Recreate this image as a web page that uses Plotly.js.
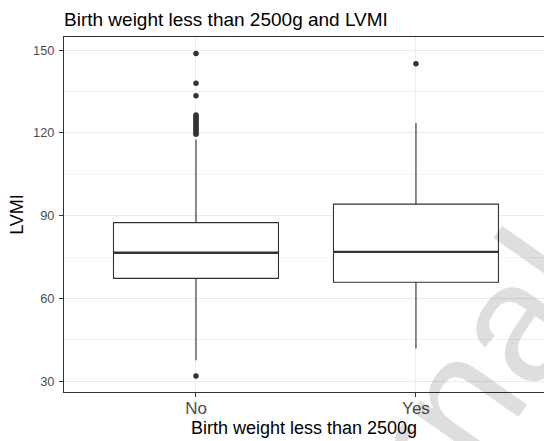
<!DOCTYPE html>
<html>
<head>
<meta charset="utf-8">
<script src="https://cdn.plot.ly/plotly-3.0.1.min.js"></script>
<style>
  html, body { margin: 0; padding: 0; background: #ffffff; overflow: hidden; }
  #chart { width: 544px; height: 441px; }
</style>
</head>
<body>
<div id="chart"></div>
<script>
// Groups on the x axis
const categories = ['No', 'Yes'];

// Box statistics of LVMI for each group
const q1 = [67.3, 65.9];
const median = [76.6, 76.9];
const q3 = [87.5, 94.2];
const lowerWhisker = [37.6, 41.9];
const upperWhisker = [117.6, 123.6];

// Points beyond the whiskers
const outliersNo = [31.9, 119.5, 120.1, 120.7, 121.3, 121.9, 122.5, 123.1, 123.7, 124.3,
                    124.9, 125.5, 126.0, 126.5, 133.5, 138.0, 148.8];
const outliersYes = [145.1];

// Tick values on the y axis
const yTicks = [30, 60, 90, 120, 150];

const FONT = 'Liberation Sans, Arial, Helvetica, sans-serif';
const INK = '#333333';
const BOX_WIDTH = 0.75;

const boxTrace = {
  type: 'box',
  x: categories,
  q1: q1,
  median: median,
  q3: q3,
  lowerfence: lowerWhisker,
  upperfence: upperWhisker,
  boxpoints: false,
  width: BOX_WIDTH,
  whiskerwidth: 0,
  fillcolor: '#ffffff',
  line: { color: INK, width: 1.1 },
  hoverinfo: 'skip',
  showlegend: false
};

const outlierX = [];
const outlierY = [];
outliersNo.forEach(v => { outlierX.push(categories[0]); outlierY.push(v); });
outliersYes.forEach(v => { outlierX.push(categories[1]); outlierY.push(v); });

const outlierTrace = {
  type: 'scatter',
  mode: 'markers',
  x: outlierX,
  y: outlierY,
  marker: { color: INK, size: 5.5 },
  hoverinfo: 'skip',
  showlegend: false
};

// Thick median bars drawn over each box
const medianShapes = median.map((m, i) => ({
  type: 'line',
  xref: 'x', yref: 'y',
  x0: i - BOX_WIDTH / 2, x1: i + BOX_WIDTH / 2,
  y0: m, y1: m,
  line: { color: INK, width: 2.4 }
}));

const layout = {
  width: 544,
  height: 441,
  margin: { l: 64, r: 0, t: 37, b: 49, autoexpand: false },
  paper_bgcolor: '#ffffff',
  plot_bgcolor: '#ffffff',
  font: { family: FONT, color: '#000000' },
  title: {
    text: 'Birth weight less than 2500g and LVMI',
    font: { family: FONT, size: 19, color: '#000000' },
    xref: 'paper', x: 0, xanchor: 'left',
    yref: 'container', y: 0.955, yanchor: 'middle'
  },
  xaxis: {
    type: 'category',
    categoryarray: categories,
    range: [-0.6, 1.582],
    showgrid: true,
    gridcolor: '#EBEBEB',
    gridwidth: 1,
    zeroline: false,
    showline: true,
    mirror: true,
    linecolor: INK,
    linewidth: 1,
    ticks: 'outside',
    ticklen: 4,
    tickwidth: 1,
    tickcolor: INK,
    ticklabelstandoff: -3,
    tickfont: { family: FONT, size: 17, color: '#4D4D4D' },
    title: {
      text: 'Birth weight less than 2500g',
      font: { family: FONT, size: 18, color: '#000000' },
      standoff: 2
    },
    fixedrange: true
  },
  yaxis: {
    range: [26.1, 154.8],
    tickvals: yTicks,
    ticktext: yTicks.map(String),
    showgrid: true,
    gridcolor: '#EBEBEB',
    gridwidth: 1,
    minor: { dtick: 15, tick0: 15, showgrid: true, gridcolor: '#F2F2F2', gridwidth: 1, ticks: '' },
    zeroline: false,
    showline: true,
    mirror: false,
    linecolor: INK,
    linewidth: 1,
    ticks: 'outside',
    ticklen: 4,
    tickwidth: 1,
    tickcolor: INK,
    ticklabelstandoff: 2,
    tickfont: { family: FONT, size: 12.8, color: '#4D4D4D' },
    title: {
      text: 'LVMI',
      font: { family: FONT, size: 18, color: '#000000' },
      standoff: 4
    },
    fixedrange: true
  },
  shapes: medianShapes,
  annotations: [{
    // page watermark running diagonally across the figure
    text: 'Journal Pre-proof',
    xref: 'paper', yref: 'paper',
    x: 1.154, y: 0.620,
    xanchor: 'center', yanchor: 'middle',
    showarrow: false,
    textangle: -55,
    font: { family: FONT, size: 170, color: 'rgba(0,0,0,0.13)' }
  }]
};

Plotly.newPlot('chart', [boxTrace, outlierTrace], layout, { displayModeBar: false, staticPlot: true });
</script>
</body>
</html>
